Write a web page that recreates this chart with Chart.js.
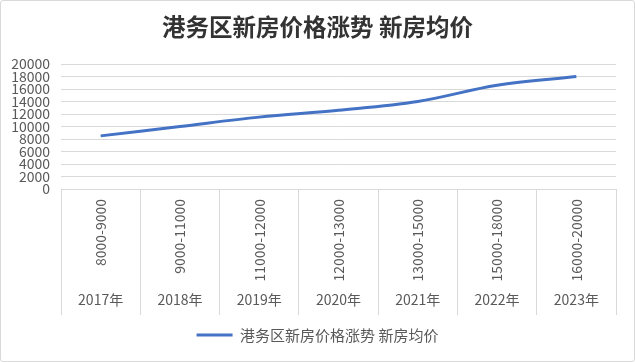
<!DOCTYPE html>
<html>
<head>
<meta charset="utf-8">
<script src="https://cdn.jsdelivr.net/npm/chart.js@4.4.1/dist/chart.umd.min.js"></script>
<style>
  html, body { margin: 0; padding: 0; background: #fff; }
  #wrap { width: 635px; height: 362px; box-sizing: border-box; border: 1px solid #d9d9d9; border-radius: 3px; }
  canvas { display: block; }
</style>
</head>
<body>
<div id="wrap"><canvas id="priceChart" width="633" height="360"></canvas></div>
<script>
// chart data
const years = ['2017年', '2018年', '2019年', '2020年', '2021年', '2022年', '2023年'];
const priceRanges = ['8000-9000', '9000-11000', '11000-12000', '12000-13000', '13000-15000', '15000-18000', '16000-20000'];
const avgPrice = [8500, 10000, 11500, 12600, 14000, 16600, 18000];
const seriesName = '港务区新房价格涨势 新房均价';

const FONT = "'Noto Sans CJK SC', 'Noto Sans', sans-serif";
const TEXT = '#595959';
const GRID = '#d9d9d9';

const data = {
    labels: priceRanges,
    datasets: [{
        label: seriesName,
        data: avgPrice,
        borderColor: '#4472c4',
        backgroundColor: '#4472c4',
        borderWidth: 3,
        pointRadius: 0,
        tension: 0.35,
        xAxisID: 'x'
    }]
};

const config = {
    type: 'line',
    data: data,
    options: {
        responsive: false,
        animation: false,
        layout: {
            padding: { left: 0, right: 0, top: 0, bottom: 8.5 }
        },
        plugins: {
            title: {
                display: true,
                text: seriesName,
                color: '#333333',
                font: { family: FONT, size: 23.5, weight: 'bold', lineHeight: 1.2 },
                padding: { top: 12, bottom: 22.8 }
            },
            legend: {
                position: 'bottom',
                labels: {
                    usePointStyle: true,
                    pointStyle: 'line',
                    pointStyleWidth: 36,
                    color: TEXT,
                    padding: 12.5,
                    font: { family: FONT, size: 15, lineHeight: 1.2 }
                }
            },
            tooltip: { enabled: false }
        },
        scales: {
            x: {
                type: 'category',
                position: 'bottom',
                weight: 0,
                offset: true,
                border: { display: false },
                grid: {
                    offset: true,
                    drawOnChartArea: false,
                    color: GRID,
                    tickLength: 96
                },
                ticks: {
                    autoSkip: false,
                    minRotation: 90,
                    maxRotation: 90,
                    padding: -86,
                    color: TEXT,
                    font: { family: FONT, size: 14 }
                },
                afterFit: (scale) => { scale.height = 96; }
            },
            x2: {
                type: 'category',
                position: 'bottom',
                weight: 1,
                labels: years,
                offset: true,
                border: { display: false },
                grid: {
                    offset: true,
                    drawOnChartArea: false,
                    color: GRID,
                    tickLength: 30
                },
                ticks: {
                    autoSkip: false,
                    maxRotation: 0,
                    padding: -23.4,
                    color: TEXT,
                    font: { family: FONT, size: 14 }
                },
                afterFit: (scale) => { scale.height = 30; }
            },
            y: {
                min: 0,
                max: 20000,
                border: { display: false },
                grid: { color: GRID, drawTicks: false },
                ticks: {
                    stepSize: 2000,
                    autoSkip: false,
                    padding: 11,
                    color: TEXT,
                    font: { family: FONT, size: 14 },
                    callback: (value) => String(value)
                },
                afterFit: (scale) => { scale.width = 60; }
            },
            // empty right margin, keeps title and legend centred on the full width
            yRight: {
                position: 'right',
                border: { display: false },
                grid: { display: false },
                ticks: { display: false },
                afterFit: (scale) => { scale.width = 18; }
            }
        }
    }
};

var priceChart = new Chart(
    document.getElementById('priceChart').getContext('2d'),
    config
);
</script>
</body>
</html>
